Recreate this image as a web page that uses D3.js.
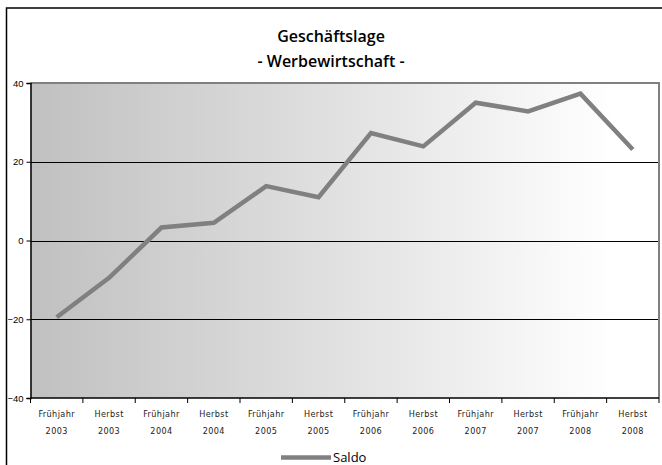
<!DOCTYPE html>
<html><head><meta charset="utf-8">
<script src="https://cdn.jsdelivr.net/npm/d3@7"></script>
<style>
html,body{margin:0;padding:0;background:#fff;}
svg{display:block;}
</style></head>
<body>
<script>
const seasons = ["Frühjahr","Herbst","Frühjahr","Herbst","Frühjahr","Herbst","Frühjahr","Herbst","Frühjahr","Herbst","Frühjahr","Herbst"];
const years = ["2003","2003","2004","2004","2005","2005","2006","2006","2007","2007","2008","2008"];
const saldo = [-19.5,-9.5,3.3,4.5,13.8,11.0,27.3,23.9,35.0,32.8,37.3,23.1];
const yTicks = [-40,-20,0,20,40];
const titleLines = ["Geschäftslage","- Werbewirtschaft -"];
const seriesName = "Saldo";

const W = 662, H = 465;
const svg = d3.select("body").append("svg").attr("width", W).attr("height", H);

const plot = {x0: 30.5, x1: 659, y0: 83, y1: 398};
const cats = d3.range(seasons.length);
const x = d3.scaleBand().domain(cats).range([plot.x0, plot.x1]);
const y = d3.scaleLinear().domain([-40, 40]).range([plot.y1, plot.y0]);

// outer frame
svg.append("rect").attr("x", 6.5).attr("y", 8).attr("width", 700).attr("height", 500)
  .attr("fill", "none").attr("stroke", "#000").attr("stroke-width", 1.5);

// gradient
const defs = svg.append("defs");
const grad = defs.append("linearGradient").attr("id", "bg").attr("x1", "0").attr("x2", "1").attr("y1", "0").attr("y2", "0");
grad.append("stop").attr("offset", "0%").attr("stop-color", "#c0c0c0");
grad.append("stop").attr("offset", "93%").attr("stop-color", "#ffffff");
grad.append("stop").attr("offset", "100%").attr("stop-color", "#ffffff");

svg.append("rect").attr("x", plot.x0).attr("y", plot.y0)
  .attr("width", plot.x1 - plot.x0).attr("height", plot.y1 - plot.y0)
  .attr("fill", "url(#bg)");

// gridlines
svg.append("g").selectAll("line").data(yTicks.filter(d => d > -40 && d < 40)).join("line")
  .attr("x1", plot.x0).attr("x2", plot.x1)
  .attr("y1", d => Math.round(y(d)) + 0.5).attr("y2", d => Math.round(y(d)) + 0.5)
  .attr("stroke", "#000").attr("stroke-width", 1);

// plot border top/right gray
svg.append("path")
  .attr("d", `M${plot.x0},${plot.y0}H${plot.x1}V${plot.y1}`)
  .attr("fill", "none").attr("stroke", "#808080").attr("stroke-width", 2);

// y axis
const yAxis = d3.axisLeft(y).tickValues(yTicks).tickSize(4).tickPadding(3).tickFormat(d3.format("d"));
const gy = svg.append("g").attr("transform", `translate(${plot.x0},0)`).call(yAxis);
gy.select(".domain").attr("stroke", "#000").attr("stroke-width", 1.5);
gy.selectAll(".tick line").attr("stroke", "#000");
gy.selectAll(".tick text").attr("font-family", "'Liberation Sans', Arial, sans-serif")
  .attr("font-size", 9.5).attr("fill", "#000");

// x axis
const gx = svg.append("g").attr("transform", `translate(0,${plot.y1})`);
gx.append("line").attr("x1", plot.x0).attr("x2", plot.x1).attr("y1", 0).attr("y2", 0)
  .attr("stroke", "#000").attr("stroke-width", 1.5);
const bounds = d3.range(seasons.length + 1).map(i => plot.x0 + i * x.step());
gx.selectAll("line.tk").data(bounds).join("line").attr("class", "tk")
  .attr("x1", d => d).attr("x2", d => d).attr("y1", 0).attr("y2", 5)
  .attr("stroke", "#000").attr("stroke-width", 1);
const lbl = gx.selectAll("text.lb").data(cats).join("text").attr("class", "lb")
  .attr("x", d => x(d) + x.bandwidth() / 2).attr("text-anchor", "middle")
  .attr("font-family", "'DejaVu Sans Condensed', 'DejaVu Sans', sans-serif").attr("font-size", 9)
  .attr("letter-spacing", 0.4).attr("fill", "#222");
lbl.append("tspan").attr("x", d => x(d) + x.bandwidth() / 2).attr("y", 19).text(d => seasons[d]);
lbl.append("tspan").attr("x", d => x(d) + x.bandwidth() / 2).attr("y", 36).text(d => years[d]);

// line
const line = d3.line().x((d, i) => x(i) + x.bandwidth() / 2).y(d => y(d));
svg.append("path").datum(saldo).attr("d", line)
  .attr("fill", "none").attr("stroke", "#808080").attr("stroke-width", 4.5)
  .attr("stroke-linejoin", "miter");

// title
const title = svg.append("text").attr("text-anchor", "middle")
  .attr("font-family", "'Open Sans', sans-serif").attr("font-weight", 600).attr("font-size", 16).attr("fill", "#000");
title.append("tspan").attr("x", 331).attr("y", 42).text(titleLines[0]);
title.append("tspan").attr("x", 331).attr("y", 67).text(titleLines[1]);

// legend
const lg = svg.append("g");
lg.append("line").attr("x1", 281).attr("x2", 331).attr("y1", 457.5).attr("y2", 457.5)
  .attr("stroke", "#808080").attr("stroke-width", 4.5);
lg.append("text").attr("x", 333).attr("y", 462)
  .attr("font-family", "'Open Sans', sans-serif").attr("font-size", 13).attr("fill", "#000").text(seriesName);
</script>
</body></html>
